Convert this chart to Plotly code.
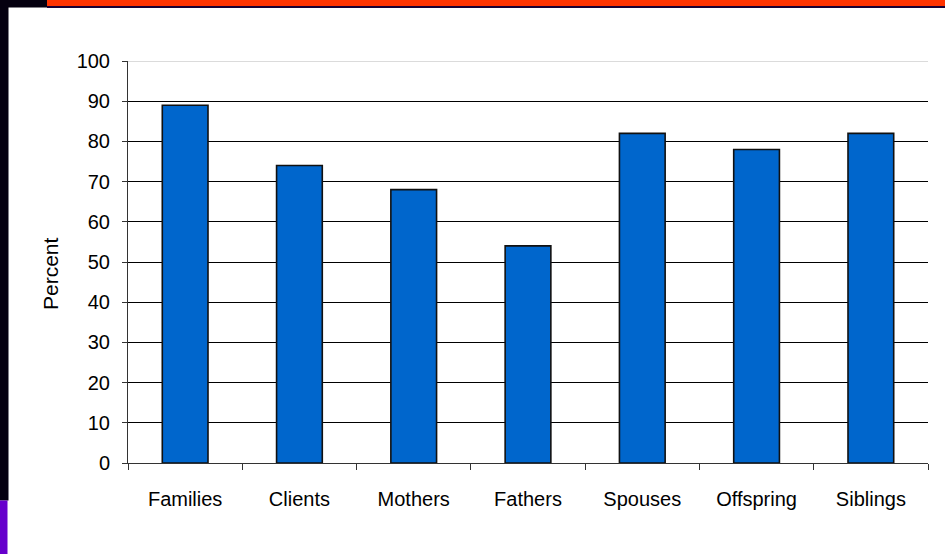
import plotly.graph_objects as go

categories = ["Families", "Clients", "Mothers", "Fathers", "Spouses", "Offspring", "Siblings"]
percent = [89, 74, 68, 54, 82, 78, 82]
y_ticks = [0, 10, 20, 30, 40, 50, 60, 70, 80, 90, 100]

W, H = 945, 554
L, R, T, B = 128, 17, 61, 91
pw, ph = W - L - R, H - T - B

def px(x):
    return (x - L) / pw

def py(y):
    return (H - B - y) / ph

fig = go.Figure(go.Bar(
    x=categories, y=percent,
    marker=dict(color="#0066CC", line=dict(color="#111111", width=1.6)),
    hoverinfo="skip",
))

font = dict(family="Liberation Sans, Arial, sans-serif", size=20, color="#000000")

fig.update_layout(
    width=W, height=H,
    margin=dict(l=L, r=R, t=T, b=B, pad=0),
    paper_bgcolor="white", plot_bgcolor="white",
    bargap=0.6, showlegend=False,
    font=font,
    xaxis=dict(
        type="category", showgrid=False, showline=True, linecolor="#333333", linewidth=1,
        ticks="outside", tickson="boundaries", ticklen=6, tickcolor="#333333",
        ticklabelstandoff=18, tickfont=font,
    ),
    yaxis=dict(
        range=[0, 100], tickvals=y_ticks, showgrid=True, gridcolor="#000000", gridwidth=1,
        showline=True, linecolor="#333333", linewidth=1, zeroline=False,
        ticks="outside", ticklen=5, tickcolor="#333333", ticklabelstandoff=8, tickfont=font,
    ),
    annotations=[dict(
        text="Percent", xref="paper", yref="paper", x=px(50), y=py(274),
        showarrow=False, textangle=-90, font=dict(family=font["family"], size=21, color="#000"),
        xanchor="center", yanchor="middle",
    )],
    shapes=[
        dict(type="line", xref="paper", yref="y", x0=0, x1=1, y0=100, y1=100,
             line=dict(color="#cfcfcf", width=1.5), layer="above"),
        dict(type="rect", xref="paper", yref="paper", x0=px(0), x1=px(8.5), y0=py(0), y1=py(500.5),
             fillcolor="#050010", line_width=0, layer="above"),
        dict(type="rect", xref="paper", yref="paper", x0=px(0), x1=px(7.5), y0=py(500.5), y1=py(554),
             fillcolor="#6600CC", line_width=0, layer="above"),
        dict(type="rect", xref="paper", yref="paper", x0=px(0), x1=px(47), y0=py(0), y1=py(7.5),
             fillcolor="#050010", line_width=0, layer="above"),
        dict(type="rect", xref="paper", yref="paper", x0=px(47), x1=px(945), y0=py(6), y1=py(8),
             fillcolor="#1a0033", line_width=0, layer="above"),
        dict(type="rect", xref="paper", yref="paper", x0=px(47), x1=px(945), y0=py(0), y1=py(6),
             fillcolor="#FF3300", line_width=0, layer="above"),
    ],
)

fig.write_html(
    "out.html",
    config={"displayModeBar": False},
    post_script="document.body.style.margin='0';document.body.style.overflow='hidden';",
)
